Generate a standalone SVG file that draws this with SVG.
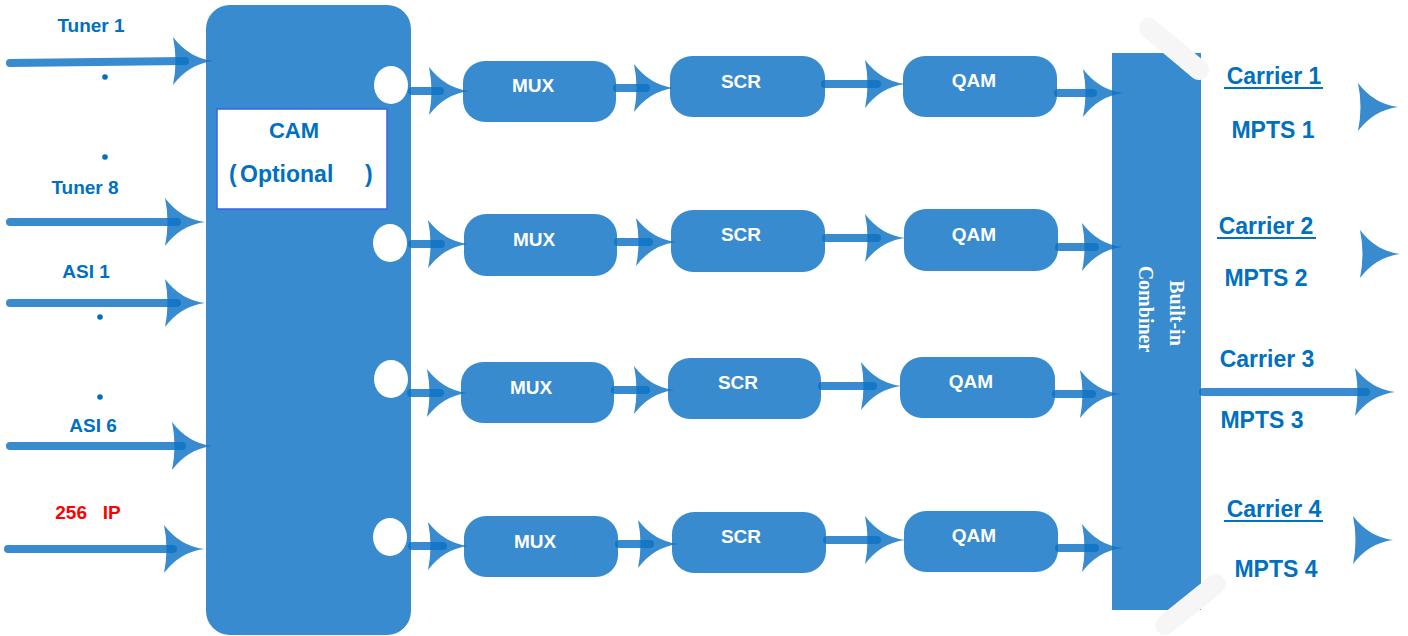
<svg xmlns="http://www.w3.org/2000/svg" xmlns:xlink="http://www.w3.org/1999/xlink" width="1408" height="636" viewBox="0 0 1408 636">
<style>
.blk{fill:#378bce}
.lbl{font-family:"Liberation Sans",Arial,sans-serif;font-weight:bold;fill:#0070c0;text-anchor:middle}
.in{font-size:19px}
.out{font-size:23px}
.box{font-family:"Liberation Sans",Arial,sans-serif;font-weight:bold;font-size:19px;fill:#ffffff;text-anchor:middle}
.ln{stroke:#0c72c3;stroke-opacity:0.82;stroke-width:8;stroke-linecap:round;fill:none}
.ah{fill:#0c72c3;fill-opacity:0.82}
.ul{stroke:#0070c0;stroke-width:2.2}
.deco{stroke:#f6f6f6;stroke-width:20;stroke-linecap:round}
</style>
<defs>
<path id="ah" d="M0,0 Q-24,-3 -40,-24 Q-35,0 -40,24 Q-24,3 0,0 Z"/>
</defs>
<rect width="1408" height="636" fill="#ffffff"/>

<g id="main-block">
<rect class="blk" x="206" y="5" width="205" height="630" rx="24" ry="24"/>
<ellipse cx="391" cy="85" rx="17" ry="19" fill="#ffffff"/>
<ellipse cx="390" cy="243" rx="17" ry="19" fill="#ffffff"/>
<ellipse cx="391" cy="379" rx="17" ry="19" fill="#ffffff"/>
<ellipse cx="390" cy="537" rx="17" ry="19" fill="#ffffff"/>
</g>

<g id="cam">
<rect x="217" y="109" width="170" height="100" fill="#ffffff" stroke="#3f62e6" stroke-width="1.5"/>
<text class="lbl" x="294" y="138" style="font-size:22px">CAM</text>
<text class="lbl" x="229" y="182" style="font-size:23px;text-anchor:start">(<tspan x="240">Optional</tspan><tspan x="365">)</tspan></text>
</g>

<g id="combiner">
<rect class="blk" x="1112" y="53" width="89" height="557"/>
<line class="deco" x1="1149" y1="28" x2="1199" y2="70"/>
<line class="deco" x1="1216" y1="584" x2="1165" y2="625"/>
<g transform="translate(1177,313) rotate(90)"><text x="0" y="7" style="font-family:'Liberation Serif','Times New Roman',serif;font-weight:bold;font-size:20px;fill:#ffffff;text-anchor:middle">Built-in</text></g>
<g transform="translate(1146,309) rotate(90)"><text x="0" y="7" style="font-family:'Liberation Serif','Times New Roman',serif;font-weight:bold;font-size:20px;fill:#ffffff;text-anchor:middle">Combiner</text></g>
</g>

<g id="row1">
<g id="mux1"><rect class="blk" x="463" y="61" width="153" height="61" rx="22"/><text class="box" x="533" y="92">MUX</text></g>
<g id="scr1"><rect class="blk" x="670" y="56" width="155" height="61" rx="22"/><text class="box" x="741" y="88">SCR</text></g>
<g id="qam1"><rect class="blk" x="903" y="56" width="154" height="61" rx="22"/><text class="box" x="974" y="87">QAM</text></g>
</g>
<g id="row2">
<g id="mux2"><rect class="blk" x="464" y="214" width="153" height="62" rx="22"/><text class="box" x="534" y="246">MUX</text></g>
<g id="scr2"><rect class="blk" x="671" y="210" width="154" height="62" rx="22"/><text class="box" x="741" y="241">SCR</text></g>
<g id="qam2"><rect class="blk" x="904" y="209" width="154" height="62" rx="22"/><text class="box" x="974" y="241">QAM</text></g>
</g>
<g id="row3">
<g id="mux3"><rect class="blk" x="461" y="362" width="153" height="61" rx="22"/><text class="box" x="531" y="394">MUX</text></g>
<g id="scr3"><rect class="blk" x="668" y="358" width="153" height="61" rx="22"/><text class="box" x="738" y="389">SCR</text></g>
<g id="qam3"><rect class="blk" x="900" y="357" width="155" height="61" rx="22"/><text class="box" x="971" y="388">QAM</text></g>
</g>
<g id="row4">
<g id="mux4"><rect class="blk" x="464" y="516" width="154" height="61" rx="22"/><text class="box" x="535" y="548">MUX</text></g>
<g id="scr4"><rect class="blk" x="672" y="512" width="154" height="61" rx="22"/><text class="box" x="741" y="543">SCR</text></g>
<g id="qam4"><rect class="blk" x="904" y="511" width="154" height="61" rx="22"/><text class="box" x="974" y="542">QAM</text></g>
</g>

<g id="connectors">
<line class="ln" x1="10" y1="63" x2="185" y2="61"/><use href="#ah" class="ah" x="213" y="61"/>
<line class="ln" x1="10" y1="222" x2="177" y2="222"/><use href="#ah" class="ah" x="205" y="222"/>
<line class="ln" x1="10" y1="303" x2="177" y2="303"/><use href="#ah" class="ah" x="205" y="303"/>
<line class="ln" x1="10" y1="446" x2="182" y2="446"/><use href="#ah" class="ah" x="212" y="446"/>
<line class="ln" x1="8" y1="549" x2="173" y2="549"/><use href="#ah" class="ah" x="204" y="549"/>

<line class="ln" x1="412" y1="91" x2="440" y2="91"/><use href="#ah" class="ah" x="469" y="91"/>
<line class="ln" x1="617" y1="88" x2="646" y2="88"/><use href="#ah" class="ah" x="674" y="88"/>
<line class="ln" x1="825" y1="84" x2="877" y2="84"/><use href="#ah" class="ah" x="905" y="84"/>
<line class="ln" x1="1058" y1="93" x2="1093" y2="93"/><use href="#ah" class="ah" x="1123" y="93"/>

<line class="ln" x1="412" y1="244" x2="441" y2="244"/><use href="#ah" class="ah" x="468" y="244"/>
<line class="ln" x1="618" y1="242" x2="649" y2="242"/><use href="#ah" class="ah" x="676" y="242"/>
<line class="ln" x1="826" y1="238" x2="877" y2="238"/><use href="#ah" class="ah" x="905" y="238"/>
<line class="ln" x1="1059" y1="247" x2="1095" y2="247"/><use href="#ah" class="ah" x="1122" y="247"/>

<line class="ln" x1="411" y1="393" x2="440" y2="393"/><use href="#ah" class="ah" x="467" y="393"/>
<line class="ln" x1="615" y1="390" x2="646" y2="390"/><use href="#ah" class="ah" x="674" y="390"/>
<line class="ln" x1="822" y1="386" x2="873" y2="386"/><use href="#ah" class="ah" x="901" y="386"/>
<line class="ln" x1="1056" y1="394" x2="1092" y2="394"/><use href="#ah" class="ah" x="1120" y="394"/>

<line class="ln" x1="412" y1="546" x2="443" y2="546"/><use href="#ah" class="ah" x="468" y="546"/>
<line class="ln" x1="619" y1="544" x2="650" y2="544"/><use href="#ah" class="ah" x="678" y="544"/>
<line class="ln" x1="827" y1="540" x2="877" y2="540"/><use href="#ah" class="ah" x="905" y="540"/>
<line class="ln" x1="1059" y1="548" x2="1095" y2="548"/><use href="#ah" class="ah" x="1122" y="548"/>

<use href="#ah" class="ah" x="1398" y="107"/>
<use href="#ah" class="ah" x="1400" y="254"/>
<line class="ln" x1="1203" y1="392" x2="1366" y2="392"/><use href="#ah" class="ah" x="1395" y="392"/>
<use href="#ah" class="ah" x="1393" y="540"/>
</g>

<g id="input-labels">
<text class="lbl in" x="91" y="32">Tuner 1</text>
<text class="lbl in" x="85" y="194">Tuner 8</text>
<text class="lbl in" x="86" y="278">ASI 1</text>
<text class="lbl in" x="93" y="432">ASI 6</text>
<text class="lbl in" x="88" y="519" style="fill:#ff0000" xml:space="preserve">256   IP</text>
<circle cx="105" cy="77" r="2.8" fill="#0070c0"/>
<circle cx="105" cy="157" r="2.8" fill="#0070c0"/>
<circle cx="100" cy="317" r="2.8" fill="#0070c0"/>
<circle cx="100" cy="397" r="2.8" fill="#0070c0"/>
</g>

<g id="output-labels">
<text class="lbl out" x="1274" y="84">Carrier 1</text><line class="ul" x1="1224" y1="88" x2="1323" y2="88"/>
<text class="lbl out" x="1273" y="138">MPTS 1</text>
<text class="lbl out" x="1266" y="234">Carrier 2</text><line class="ul" x1="1217" y1="238" x2="1316" y2="238"/>
<text class="lbl out" x="1266" y="286">MPTS 2</text>
<text class="lbl out" x="1267" y="367">Carrier 3</text>
<text class="lbl out" x="1262" y="428">MPTS 3</text>
<text class="lbl out" x="1274" y="517">Carrier 4</text><line class="ul" x1="1224" y1="521" x2="1323" y2="521"/>
<text class="lbl out" x="1276" y="577">MPTS 4</text>
</g>
</svg>
